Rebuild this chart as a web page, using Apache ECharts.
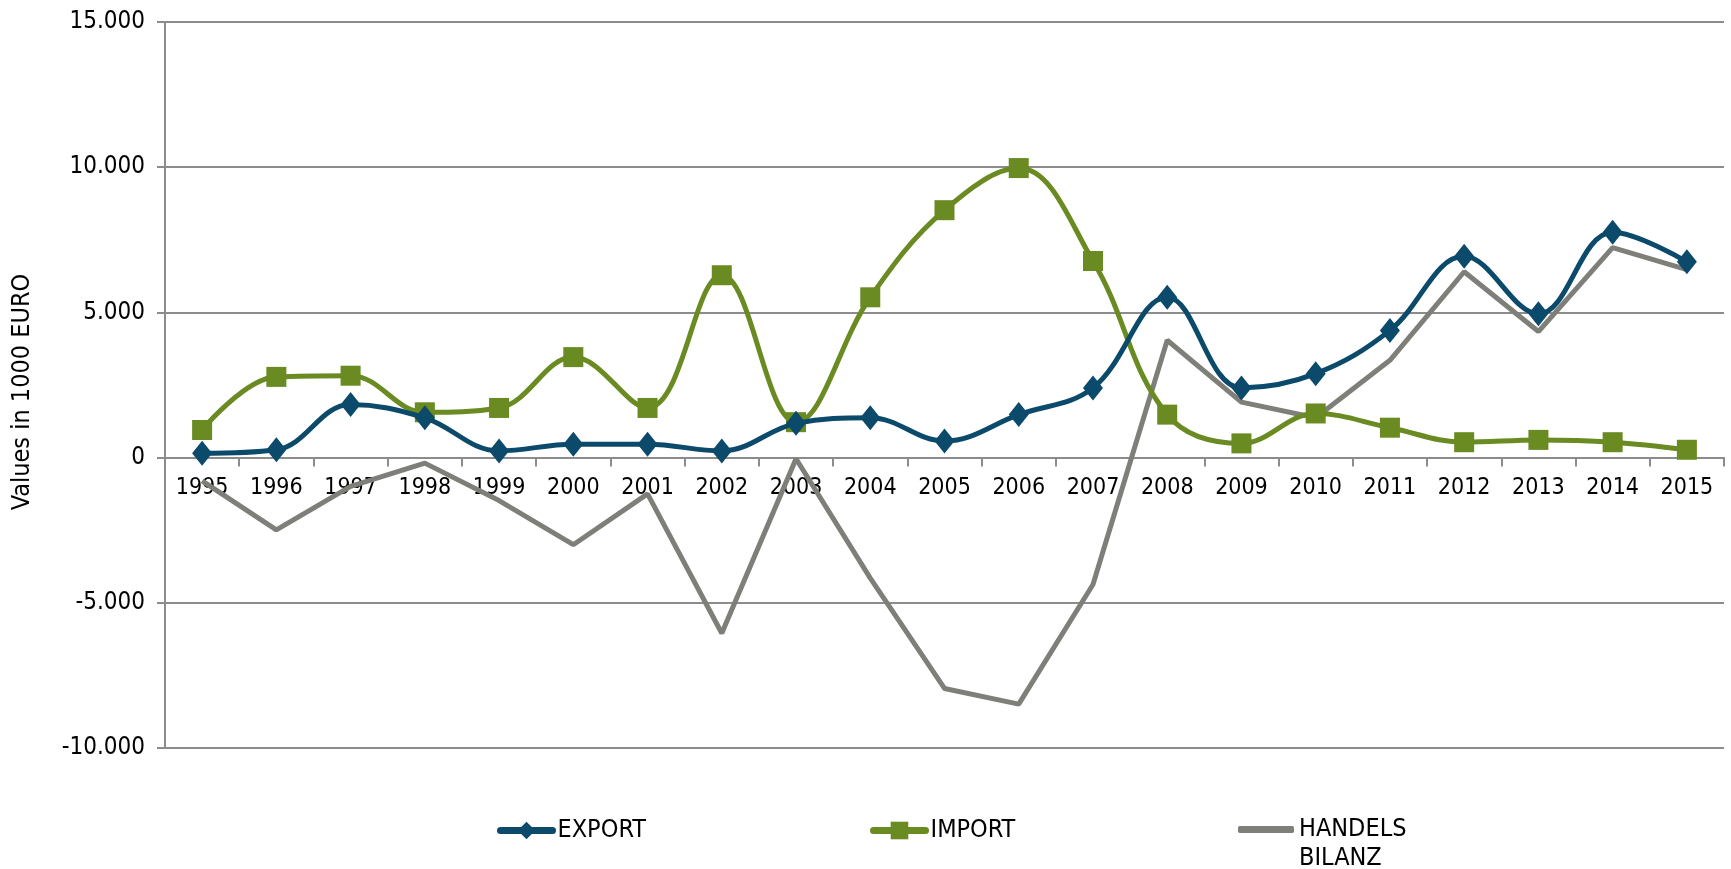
<!DOCTYPE html>
<html>
<head>
<meta charset="utf-8">
<script src="https://cdn.jsdelivr.net/npm/echarts@6/dist/echarts.min.js"></script>
<style>html,body{margin:0;padding:0;background:#fff}#c{width:1731px;height:869px}</style>
</head>
<body>
<div id="c"></div>
<script>
const years = ['1995','1996','1997','1998','1999','2000','2001','2002','2003','2004','2005','2006','2007','2008','2009','2010','2011','2012','2013','2014','2015'];
const exportVals = [150,270,1830,1370,230,460,460,230,1180,1370,570,1480,2400,5520,2400,2890,4380,6930,4950,7760,6740];
const importVals = [950,2780,2820,1560,1710,3460,1710,6280,1220,5520,8520,9970,6770,1480,490,1520,1030,530,610,530,270];
const bilanzVals = [-800,-2490,-990,-190,-1480,-3000,-1250,-6050,-40,-4150,-7950,-8490,-4370,4040,1910,1370,3350,6400,4340,7230,6470];
const yMin = -10000, yMax = 15000, yStep = 5000;

const FONT = 'DejaVu Sans Condensed';
const fmt = v => { const s = Math.abs(v) >= 1000 ? (Math.abs(v)/1000).toFixed(0) + '.000' : String(Math.abs(v)); return (v < 0 ? '-' : '') + s; };

const W = 1731, H = 869;
const G = {left: 165, right: 7, top: 22, bottom: 121};
const gridH = H - G.top - G.bottom;
// place the category axis on the zero line of the value axis
const zeroOffset = -gridH * (0 - yMin) / (yMax - yMin);

const chart = echarts.init(document.getElementById('c'));
const legendText = {fontFamily: FONT, fontSize: 25, color: '#000'};
chart.setOption({
  animation: false,
  grid: G,
  legend: [
    {data: ['EXPORT'], left: 497, top: 818, padding: 0, itemWidth: 52, itemHeight: 22, textStyle: legendText,
     lineStyle: {width: 7, cap: 'round'}},
    {data: ['IMPORT'], left: 870, top: 818, padding: 0, itemWidth: 52, itemHeight: 22, textStyle: legendText,
     lineStyle: {width: 7, cap: 'round'}},
    {data: [{name: 'HANDELS\nBILANZ', icon: 'roundRect'}], left: 1238, top: 786, padding: 0, itemWidth: 56, itemHeight: 7,
     itemStyle: {color: '#7f7f7a'},
     formatter: name => '\n' + name,
     textStyle: Object.assign({}, legendText, {lineHeight: 29})}
  ],
  xAxis: {
    type: 'category', data: years, boundaryGap: true, offset: zeroOffset,
    axisLine: {onZero: false, lineStyle: {color: '#8c8c8c', width: 2}},
    axisTick: {show: true, interval: 0, length: 9, lineStyle: {color: '#8c8c8c', width: 2}},
    axisLabel: {fontFamily: FONT, fontSize: 23, color: '#000', margin: 19, interval: 0}
  },
  yAxis: {
    type: 'value', min: yMin, max: yMax, interval: yStep,
    name: 'Values in 1000 EURO', nameLocation: 'middle', nameGap: 130,
    nameTextStyle: {fontFamily: FONT, fontSize: 25, color: '#000', padding: [0, 14, 0, 0]},
    axisLine: {show: true, lineStyle: {color: '#8c8c8c', width: 2}},
    axisTick: {show: true, length: 8, lineStyle: {color: '#8c8c8c', width: 2}},
    axisLabel: {fontFamily: FONT, fontSize: 24, color: '#000', margin: 20, formatter: fmt},
    splitLine: {lineStyle: {color: '#8c8c8c', width: 2}}
  },
  series: [
    {name: 'HANDELS\nBILANZ', type: 'line', data: bilanzVals, smooth: false, showSymbol: false, symbol: 'none',
     lineStyle: {color: '#7f7f7a', width: 5}, itemStyle: {color: '#7f7f7a'}, z: 1},
    {name: 'IMPORT', type: 'line', data: importVals, smooth: 0.38, symbol: 'rect', symbolSize: 20,
     lineStyle: {color: '#6a8a22', width: 5}, itemStyle: {color: '#6a8a22'}, z: 2},
    {name: 'EXPORT', type: 'line', data: exportVals, smooth: 0.38, symbol: 'diamond', symbolSize: [20, 25],
     lineStyle: {color: '#0b4a6a', width: 5}, itemStyle: {color: '#0b4a6a'}, z: 3}
  ]
});
</script>
</body>
</html>
